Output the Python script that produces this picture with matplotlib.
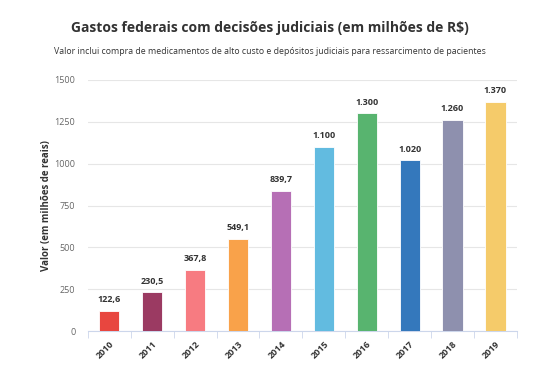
import matplotlib.pyplot as plt

plt.rcParams['font.family'] = ['Open Sans', 'DejaVu Sans']

anos = ['2010', '2011', '2012', '2013', '2014', '2015', '2016', '2017', '2018', '2019']
valores = [122.6, 230.5, 367.8, 549.1, 839.7, 1100, 1300, 1020, 1260, 1370]
rotulos = ['122,6', '230,5', '367,8', '549,1', '839,7', '1.100', '1.300', '1.020', '1.260', '1.370']
cores = ['#e8463f', '#9b3a62', '#f77b81', '#f9a24a', '#b66fb5',
         '#62bbe0', '#58b46f', '#3478bc', '#8e90ae', '#f5cb6a']

fig = plt.figure(figsize=(5.39, 3.72), dpi=100)
ax = fig.add_axes([0.163, 0.110, 0.796, 0.675])

x = range(len(anos))
ax.bar(x, valores, width=0.47, color=cores, edgecolor='white', linewidth=0.6, zorder=3)
for xi, v, r in zip(x, valores, rotulos):
    ax.text(xi, v + 40, r, ha='center', va='bottom', fontsize=6.5,
            fontweight='bold', color='#333333')

ax.set_xlim(-0.5, len(anos) - 0.5)
ax.set_ylim(0, 1500)
ax.set_yticks([0, 250, 500, 750, 1000, 1250, 1500])
ax.set_xticks(list(x))
ax.set_xticklabels(anos, rotation=45, ha='right', rotation_mode='anchor',
                   fontsize=6.5, color='#333333', fontweight='bold')
ax.set_xticks([i - 0.5 for i in range(len(anos) + 1)], minor=True)
ax.tick_params(axis='x', which='major', length=0, pad=6)
ax.tick_params(axis='x', which='minor', length=5, color='#ccd6eb')
ax.tick_params(axis='y', length=0, labelsize=6.5, labelcolor='#666666', pad=9)
ax.grid(axis='y', color='#e6e6e6', linewidth=0.8, zorder=0)
for s in ['top', 'right', 'left']:
    ax.spines[s].set_visible(False)
ax.spines['bottom'].set_color('#ccd6eb')

ax.set_ylabel('Valor (em milhões de reais)', fontsize=7, fontweight='bold',
              color='#333333', labelpad=2)

fig.text(0.5, 0.925, 'Gastos federais com decisões judiciais (em milhões de R$)',
         ha='center', va='center', fontsize=10, fontweight='bold', color='#333333')
fig.text(0.5, 0.862, 'Valor inclui compra de medicamentos de alto custo e depósitos judiciais para ressarcimento de pacientes',
         ha='center', va='center', fontsize=6.3, color='#333333')

fig.savefig('out.png', dpi=100)
